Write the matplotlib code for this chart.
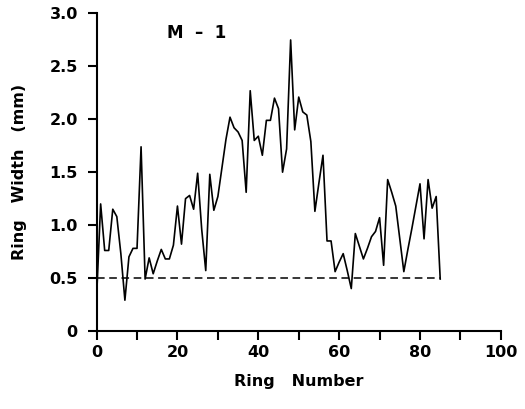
import numpy as np
import matplotlib
matplotlib.use("Agg")
import matplotlib.pyplot as plt

plt.rcParams['font.family'] = ['DejaVu Sans']
plt.rcParams['font.weight'] = 'bold'

# ring widths (mm), one per ring 0..85
ring_width = [
    0.32, 1.20, 0.76, 0.76, 1.15, 1.08, 0.73, 0.29, 0.70, 0.78,
    0.78, 1.74, 0.49, 0.69, 0.54, 0.66, 0.77, 0.68, 0.68, 0.81,
    1.18, 0.82, 1.25, 1.28, 1.15, 1.49, 0.96, 0.57, 1.48, 1.14,
    1.27, 1.54, 1.81, 2.02, 1.92, 1.88, 1.80, 1.31, 2.27, 1.80,
    1.84, 1.66, 1.99, 1.99, 2.20, 2.10, 1.50, 1.72, 2.75, 1.90,
    2.21, 2.07, 2.04, 1.79, 1.13, 1.40, 1.66, 0.85, 0.85, 0.56,
    0.65, 0.73, 0.57, 0.40, 0.92, 0.80, 0.68, 0.78, 0.89, 0.94,
    1.07, 0.62, 1.43, 1.31, 1.18, 0.87, 0.56, 0.77, 0.97, 1.18,
    1.39, 0.87, 1.43, 1.16, 1.27, 0.49,
]
ring_number = np.arange(len(ring_width))
threshold = 0.5

x_ticks = list(range(0, 101, 10))
x_tick_labels = [str(v) if v % 20 == 0 else '' for v in x_ticks]
y_ticks = [0, 0.5, 1.0, 1.5, 2.0, 2.5, 3.0]
y_tick_labels = ['0', '0.5', '1.0', '1.5', '2.0', '2.5', '3.0']

fig = plt.figure(figsize=(5.25, 4.09), dpi=100)
ax = fig.add_axes([0.184, 0.191, 0.770, 0.776])

ax.plot(ring_number, ring_width, color='black', lw=1.2)
ax.plot([ring_number[0], ring_number[-1]], [threshold, threshold],
        color='black', lw=1.1, linestyle=(0, (5, 3)))

ax.set_xlim(0, 100)
ax.set_ylim(0, 3.0)
ax.spines['top'].set_visible(False)
ax.spines['right'].set_visible(False)
ax.spines['left'].set_linewidth(1.5)
ax.spines['bottom'].set_linewidth(1.5)

ax.set_xticks(x_ticks)
ax.set_xticklabels(x_tick_labels)
ax.set_yticks(y_ticks)
ax.set_yticklabels(y_tick_labels)
ax.tick_params(axis='both', direction='out', length=6.5, width=1.5,
               labelsize=11.5)
ax.tick_params(axis='y', pad=7)
ax.tick_params(axis='x', pad=4)

ax.set_xlabel('Ring   Number', fontsize=11.5, fontweight='bold', labelpad=10)
ax.set_ylabel('Ring   Width   (mm)', fontsize=11.5, fontweight='bold', labelpad=16)

ax.text(0.248, 0.937, 'M  \u2013  1', transform=ax.transAxes, fontsize=12,
        fontweight='bold', ha='center', va='center')

fig.savefig('out.png', dpi=100)
